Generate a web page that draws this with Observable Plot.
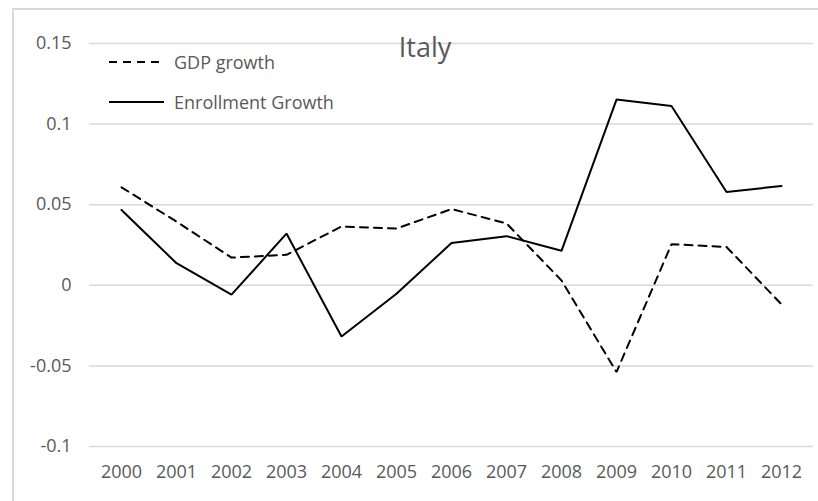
<!DOCTYPE html>
<html>
<head>
<meta charset="utf-8">
<script src="https://cdn.jsdelivr.net/npm/d3@7"></script>
<script src="https://cdn.jsdelivr.net/npm/@observablehq/plot@0.6"></script>
<style>
  html, body { margin: 0; padding: 0; background: #fff; }
  #chart { position: relative; width: 818px; height: 501px; overflow: hidden; font-family: "Open Sans", sans-serif; }
  #border { position: absolute; left: 12px; top: 8px; right: -10px; bottom: -10px; border-left: 2px solid #d9d9d9; border-top: 2px solid #d9d9d9; pointer-events: none; }
  #overlay { position: absolute; left: 0; top: 0; pointer-events: none; }
</style>
</head>
<body>
<div id="chart"><div id="border"></div></div>
<script>
const years = ["2000","2001","2002","2003","2004","2005","2006","2007","2008","2009","2010","2011","2012"];
const gdpGrowth = [0.0608, 0.0395, 0.0172, 0.0189, 0.0365, 0.0352, 0.0473, 0.0384, 0.0030, -0.0538, 0.0255, 0.0238, -0.0118];
const enrollmentGrowth = [0.0467, 0.0137, -0.0058, 0.0321, -0.0318, -0.0052, 0.0262, 0.0305, 0.0214, 0.1152, 0.1112, 0.0579, 0.0616];
const yTicks = [-0.1, -0.05, 0, 0.05, 0.1, 0.15];
const yTickLabels = ["-0.1", "-0.05", "0", "0.05", "0.1", "0.15"];
const seriesNames = ["GDP growth", "Enrollment Growth"];
const titleText = "Italy";

const gdpData = years.map((y, i) => ({year: y, value: gdpGrowth[i]}));
const enrData = years.map((y, i) => ({year: y, value: enrollmentGrowth[i]}));

const plot = Plot.plot({
  width: 818,
  height: 501,
  marginLeft: 89,
  marginRight: 5,
  marginTop: 43,
  marginBottom: 55,
  style: {fontFamily: "Open Sans, sans-serif", fontSize: "18px", color: "#595959", background: "transparent"},
  x: {type: "point", domain: years, padding: 0.5},
  y: {domain: [-0.1, 0.15]},
  marks: [
    Plot.gridY(yTicks, {stroke: "#d9d9d9", strokeOpacity: 1, strokeWidth: 1.5}),
    Plot.axisY(yTicks, {tickSize: 0, tickPadding: 18, fontSize: 18, fill: "#595959",
      tickFormat: d => yTickLabels[yTicks.indexOf(d)], label: null}),
    Plot.axisX({tickSize: 0, tickPadding: 19, fontSize: 18, fill: "#595959", label: null}),
    Plot.line(gdpData, {x: "year", y: "value", stroke: "black", strokeWidth: 2, strokeDasharray: "8,6", strokeLinejoin: "miter"}),
    Plot.line(enrData, {x: "year", y: "value", stroke: "black", strokeWidth: 2, strokeLinejoin: "miter"})
  ]
});
document.getElementById("chart").appendChild(plot);

// Title and legend overlay
const svg = d3.select("#chart").append("svg")
  .attr("id", "overlay").attr("width", 818).attr("height", 501)
  .style("font-family", "Open Sans, sans-serif");
svg.append("text").attr("x", 425).attr("y", 57).attr("text-anchor", "middle")
  .attr("font-size", 27).attr("fill", "#595959").text(titleText);
const legendRows = [
  {name: seriesNames[0], dash: "8,6", y: 62},
  {name: seriesNames[1], dash: null, y: 102}
];
legendRows.forEach(r => {
  const line = svg.append("line").attr("x1", 109).attr("x2", 164).attr("y1", r.y).attr("y2", r.y)
    .attr("stroke", "black").attr("stroke-width", 2);
  if (r.dash) line.attr("stroke-dasharray", r.dash);
  svg.append("text").attr("x", 174).attr("y", r.y + 1).attr("dy", "0.35em")
    .attr("font-size", 18).attr("fill", "#595959").text(r.name);
});
</script>
</body>
</html>
